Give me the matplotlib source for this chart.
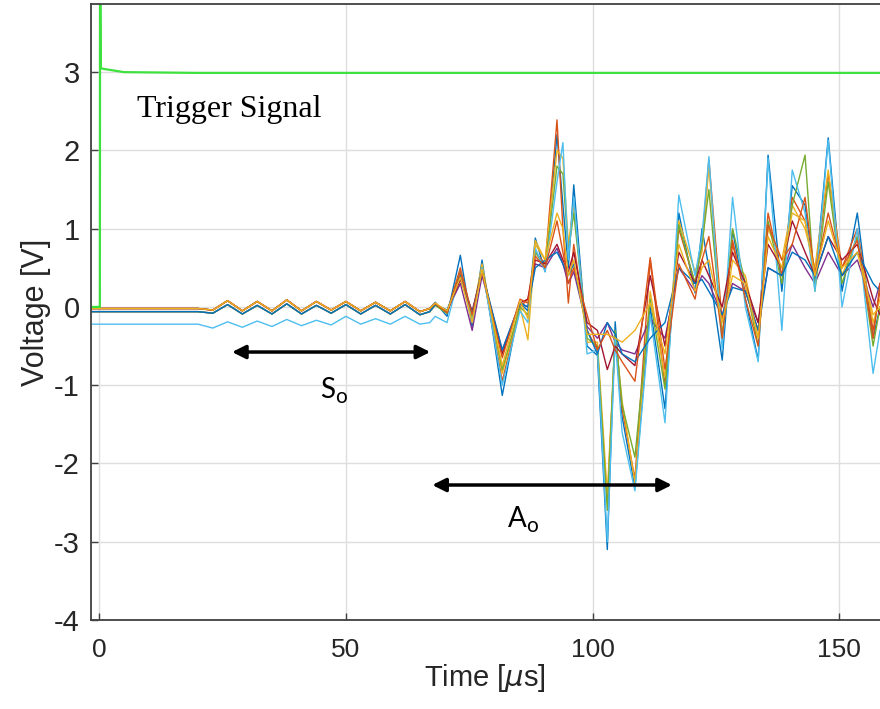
import matplotlib
matplotlib.use("Agg")
import matplotlib.pyplot as plt

plt.rcParams["axes.unicode_minus"] = False

# MATLAB default line colours
colors = ["#0072BD", "#D95319", "#EDB120", "#7E2F8E", "#77AC30",
          "#4DBEEE", "#A2142F", "#0072BD", "#D95319", "#EDB120"]

# quiet part before the waves arrive (time in us, volts)
early_t = [-1.7, 20, 23, 26, 29, 32, 35, 38, 41, 44, 47, 50, 53, 56, 59, 62, 65, 67]
early_hi = [-0.02, -0.02, -0.04, 0.08, -0.05, 0.07, -0.05, 0.09, -0.05, 0.07,
            -0.04, 0.07, -0.05, 0.06, -0.05, 0.07, -0.06, -0.02]
early_lo = [-0.06, -0.06, -0.08, 0.03, -0.09, 0.02, -0.09, 0.04, -0.09, 0.02,
            -0.08, 0.03, -0.09, 0.02, -0.09, 0.03, -0.10, -0.06]
early_lb = [-0.22, -0.22, -0.27, -0.19, -0.26, -0.18, -0.25, -0.16, -0.24, -0.17,
            -0.23, -0.12, -0.22, -0.15, -0.22, -0.12, -0.22, -0.20]

# wave part, peaks and troughs
wave_t = [68.1, 70.5, 73.2, 75.6, 77.6, 81.7, 85.3, 86.9, 88.4, 90.4,
          92.8, 94.0, 95.1, 96.2, 98.9, 101.0, 103.0, 104.6, 106.0, 108.6,
          111.7, 114.7, 117.5, 120.8, 122.2, 123.6, 126.3, 128.4, 131.0, 133.6,
          135.6, 138.4, 140.5, 143.1, 145.1, 147.8, 150.6, 153.7, 156.9, 158.3]

blue1 = [0.06, -0.12, 0.66, -0.26, 0.60, -1.13, 0.05, -0.05, 0.88, 0.45,
         2.20, 1.30, 0.50, 1.56, -0.50, -0.62, -3.10, -0.19, -1.40, -2.30,
         0.00, -1.30, 1.20, 0.18, 1.00, 0.50, -0.68, 0.98, 0.10, -0.68,
         1.94, 0.20, 1.55, 1.30, 0.30, 2.16, 0.20, 1.20, -0.40, 0.00]
orange1 = [0.05, -0.08, 0.50, -0.10, 0.50, -0.95, 0.00, 0.10, 0.70, 0.55,
           2.39, 1.00, 0.05, 0.80, -0.30, -0.55, -2.50, -0.40, -1.30, -2.20,
           0.60, -1.00, 1.00, 0.30, 0.80, 1.88, -0.20, 0.80, 0.20, -0.30,
           1.20, 0.40, 1.40, 1.10, 0.40, 1.70, 0.50, 1.00, -0.30, 0.20]
yellow1 = [0.04, -0.06, 0.40, -0.12, 0.55, -0.85, 0.00, -0.42, 0.80, 0.60,
           2.00, 1.90, 0.80, 1.30, -0.45, -0.45, -2.40, -0.35, -1.20, -2.25,
           0.20, -0.90, 1.10, 0.45, 0.70, 1.80, -0.35, 0.60, 0.40, -0.40,
           1.00, 0.60, 1.30, 1.00, 0.50, 1.75, 0.40, 0.90, -0.20, 0.10]
purple = [0.03, -0.05, 0.30, -0.30, 0.40, -0.55, 0.05, 0.00, 0.55, 0.50,
          0.75, 0.55, 0.30, 0.45, -0.25, -0.40, -0.20, -0.45, -0.55, -0.60,
          -0.15, -0.40, 0.50, 0.20, 0.40, 0.30, -0.10, 0.30, 0.20, -0.20,
          0.50, 0.40, 0.80, 0.50, 0.30, 0.70, 0.40, 0.60, 0.00, 0.30]
green = [0.02, -0.08, 0.45, -0.15, 0.50, -0.80, 0.00, -0.10, 0.70, 0.50,
         1.80, 1.70, 0.70, 1.20, -0.40, -0.50, -2.60, -0.30, -1.25, -1.92,
         0.10, -1.05, 1.05, 0.30, 0.80, 1.50, -0.40, 1.00, 0.30, -0.50,
         1.10, 0.30, 1.30, 1.94, 0.20, 1.60, 0.30, 0.90, -0.50, 0.00]
lightblue = [-0.12, -0.20, 0.45, -0.20, 0.50, -1.00, -0.05, -0.20, 0.75, 0.45,
             1.60, 2.10, 0.60, 1.40, -0.60, -0.55, -3.00, -0.40, -1.60, -2.35,
             -0.10, -1.48, 1.43, 0.40, 0.90, 1.92, -0.55, 1.40, 0.00, -0.70,
             1.90, -0.30, 1.75, 1.20, 0.20, 2.13, 0.00, 1.00, -0.85, -0.30]
darkred = [0.04, -0.06, 0.35, -0.05, 0.45, -0.60, 0.05, 0.10, 0.60, 0.55,
           0.80, 0.60, 0.45, 0.70, -0.20, -0.30, -0.80, -0.50, -0.60, -0.75,
           0.40, -0.50, 0.70, 0.30, 0.60, 0.40, 0.00, 0.70, 0.30, -0.20,
           0.80, 0.50, 1.10, 0.70, 0.40, 0.90, 0.60, 0.80, 0.10, -0.10]
blue2 = [0.03, -0.04, 0.40, -0.08, 0.45, -0.55, 0.05, 0.00, 0.50, 0.60,
         0.70, 0.55, 0.40, 0.55, -0.30, -0.60, -0.20, -0.35, -0.60, -0.70,
         -0.40, -0.20, 0.50, 0.30, 0.35, 0.20, -0.10, 0.25, 0.20, -0.30,
         0.50, 0.40, 0.70, 0.60, 0.40, 0.90, 0.40, 0.70, 0.30, 0.20]
orange2 = [0.04, -0.07, 0.45, -0.10, 0.45, -0.65, 0.10, 0.05, 0.65, 0.50,
           1.10, 0.70, 0.30, 0.50, -0.10, -0.55, -0.30, -0.55, -0.70, -0.95,
           0.63, -0.80, 0.55, 0.10, 0.60, 0.90, -0.40, 0.85, 0.10, -0.50,
           1.05, 0.60, 0.80, 1.40, 0.40, 1.20, 0.50, 0.85, -0.40, 0.30]
yellow2 = [0.05, -0.05, 0.38, -0.20, 0.48, -0.75, 0.08, -0.15, 0.85, 0.60,
           1.20, 1.00, 0.40, 0.60, -0.35, -0.35, -0.35, -0.40, -0.45, -0.30,
           0.05, -0.60, 0.80, 0.20, 0.50, 0.60, -0.20, 0.40, 0.30, -0.40,
           0.90, 0.50, 1.20, 1.10, 0.40, 1.10, 0.50, 0.70, -0.10, 0.00]

traces = [(blue1, early_hi), (orange1, early_hi), (yellow1, early_lo),
          (purple, early_lo), (green, early_lo), (lightblue, early_lb),
          (darkred, early_hi), (blue2, early_lo), (orange2, early_hi),
          (yellow2, early_hi)]

# trigger channel
trig_t = [-1.7, 0.0, 0.1, 0.15, 0.3, 1.0, 5.0, 20.0, 158.3]
trig_v = [0.0, 0.0, 0.0, 5.0, 3.05, 3.04, 3.0, 2.99, 2.99]

fig = plt.figure(figsize=(8.8, 7.09), dpi=100)
ax = fig.add_axes([0.1034, 0.1255, 0.8966, 0.8688])

for (wave, early), c in zip(traces, colors):
    ax.plot(early_t + wave_t, early + wave, color=c, lw=1.0)

ax.plot(trig_t, trig_v, color="#3ee23e", lw=1.6)

ax.set_xlim(-1.7, 158.3)
ax.set_ylim(-4, 3.87)
ax.set_xticks([0, 50, 100, 150])
ax.set_yticks([-4, -3, -2, -1, 0, 1, 2, 3])
ax.grid(True, color="#dedede", lw=1.0)
ax.set_axisbelow(True)

for side in ["left", "bottom", "top"]:
    ax.spines[side].set_color("#404040")
    ax.spines[side].set_linewidth(1.3)
ax.spines["right"].set_visible(False)
ax.tick_params(direction="in", length=5, width=1, color="#404040")
ax.tick_params(axis="x", labelsize=19, pad=13, labelcolor="#262626")
ax.tick_params(axis="y", labelsize=21, pad=8, labelcolor="#262626")
for lab in ax.get_xticklabels() + ax.get_yticklabels():
    lab.set_fontfamily("Liberation Sans")

ax.set_xlabel("Time [$\\mu$s]", fontsize=21, family="Liberation Sans", color="#262626", labelpad=0)
ax.set_ylabel("Voltage [V]", fontsize=22, family="Liberation Sans", color="#262626", labelpad=2)

ax.text(7.6, 2.425, "Trigger Signal", fontsize=23, family="Liberation Serif",
        ha="left", va="baseline")

# S0 and A0 arrows
ax.annotate("", xy=(67.1, -0.576), xytext=(26.9, -0.576),
            arrowprops=dict(arrowstyle="<|-|>", color="black", lw=2.5,
                            mutation_scale=20, shrinkA=0, shrinkB=0))
ax.annotate("", xy=(116.1, -2.275), xytext=(67.5, -2.275),
            arrowprops=dict(arrowstyle="<|-|>", color="black", lw=2.5,
                            mutation_scale=20, shrinkA=0, shrinkB=0))

ax.text(44.7, -1.163, "S", fontsize=20, family="Lato", ha="left", va="baseline")
ax.annotate("o", xy=(44.7, -1.163), xytext=(10.8, -3.6), textcoords="offset points",
            fontsize=15, family="Lato", ha="left", va="baseline")
ax.text(82.9, -2.81, "A", fontsize=20, family="Lato", ha="left", va="baseline")
ax.annotate("o", xy=(82.9, -2.81), xytext=(13, -3.6), textcoords="offset points",
            fontsize=15, family="Lato", ha="left", va="baseline")

plt.savefig("out.png", dpi=100)
plt.close()
